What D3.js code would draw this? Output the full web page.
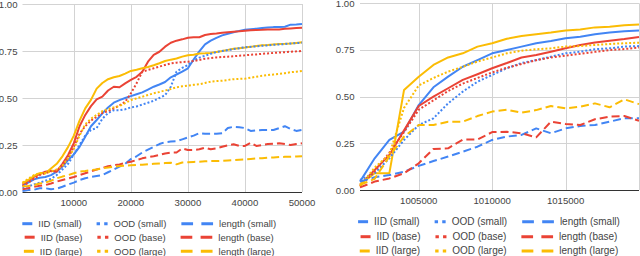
<!DOCTYPE html>
<html>
<head>
<meta charset="utf-8">
<script src="https://cdn.jsdelivr.net/npm/d3@7/dist/d3.min.js"></script>
<style>
  html, body { margin: 0; padding: 0; background: #fff; }
  svg { display: block; font-family: "Liberation Sans", Arial, sans-serif; }
</style>
</head>
<body>
<svg id="chart" width="640" height="256"></svg>
<script>
// x values (training steps) for the two panels
var leftSteps = [1000, 2000, 3000, 4000, 5000, 6000, 7000, 8000, 9000, 10000,
  11000, 12000, 13000, 14000, 15000, 16000, 17000, 18000, 19000, 20000,
  21000, 22000, 23000, 24000, 25000, 26000, 27000, 28000, 29000, 30000,
  31000, 32000, 33000, 34000, 35000, 36000, 37000, 38000, 39000, 40000,
  41000, 42000, 43000, 44000, 45000, 46000, 47000, 48000, 49000, 50000];
var rightSteps = [1001000, 1002000, 1003000, 1004000, 1005000, 1006000, 1007000,
  1008000, 1009000, 1010000, 1011000, 1012000, 1013000, 1014000, 1015000,
  1016000, 1017000, 1018000, 1019000, 1020000];

// left panel
var leftIIDSmall = [0.035,0.05,0.067,0.076,0.08,0.09,0.108,0.135,0.17,0.2,
  0.24,0.294,0.35,0.383,0.418,0.45,0.475,0.489,0.5,0.51,
  0.52,0.53,0.545,0.56,0.572,0.585,0.61,0.625,0.64,0.658,
  0.705,0.748,0.785,0.805,0.82,0.833,0.842,0.85,0.857,0.863,
  0.866,0.869,0.872,0.875,0.877,0.878,0.879,0.89,0.891,0.894];
var leftIIDBase = [0.04,0.06,0.08,0.095,0.108,0.113,0.108,0.15,0.197,0.26,
  0.35,0.41,0.457,0.493,0.507,0.54,0.56,0.557,0.578,0.596,
  0.613,0.64,0.693,0.73,0.746,0.773,0.794,0.805,0.812,0.82,
  0.823,0.823,0.835,0.84,0.843,0.847,0.85,0.853,0.855,0.858,
  0.86,0.862,0.863,0.865,0.865,0.865,0.868,0.87,0.872,0.874];
var leftIIDLarge = [0.046,0.064,0.085,0.1,0.1,0.125,0.15,0.19,0.24,0.3,
  0.38,0.445,0.49,0.55,0.58,0.6,0.61,0.617,0.63,0.644,
  0.65,0.658,0.665,0.674,0.685,0.697,0.704,0.71,0.72,0.727,
  0.73,0.737,0.738,0.74,0.745,0.75,0.756,0.762,0.765,0.768,
  0.772,0.777,0.78,0.782,0.785,0.787,0.788,0.79,0.793,0.796];
var leftOODSmall = [0.02,0.03,0.04,0.05,0.06,0.07,0.09,0.12,0.15,0.2,
  0.25,0.3,0.33,0.34,0.39,0.42,0.435,0.435,0.44,0.45,
  0.455,0.465,0.475,0.485,0.5,0.515,0.56,0.64,0.66,0.675,
  0.7,0.715,0.725,0.735,0.745,0.75,0.755,0.76,0.765,0.77,
  0.772,0.775,0.778,0.78,0.783,0.785,0.787,0.79,0.792,0.794];
var leftOODBase = [0.03,0.05,0.07,0.09,0.1,0.11,0.115,0.14,0.18,0.24,
  0.31,0.35,0.38,0.4,0.42,0.43,0.445,0.46,0.48,0.525,
  0.578,0.64,0.649,0.658,0.667,0.676,0.684,0.688,0.691,0.693,
  0.697,0.702,0.709,0.712,0.716,0.718,0.72,0.722,0.725,0.727,
  0.73,0.732,0.735,0.737,0.74,0.742,0.744,0.746,0.748,0.75];
var leftOODLarge = [0.05,0.07,0.09,0.1,0.1,0.11,0.12,0.14,0.18,0.23,
  0.3,0.36,0.39,0.41,0.43,0.44,0.45,0.457,0.473,0.489,
  0.498,0.507,0.516,0.525,0.532,0.54,0.548,0.557,0.562,0.566,
  0.57,0.573,0.58,0.587,0.59,0.592,0.596,0.6,0.602,0.603,
  0.608,0.613,0.618,0.622,0.625,0.628,0.632,0.637,0.64,0.644];
var leftLenSmall = [0.005,0.01,0.012,0.02,0.02,0.015,0.018,0.028,0.04,0.05,
  0.064,0.073,0.08,0.085,0.09,0.105,0.12,0.135,0.15,0.175,
  0.19,0.21,0.225,0.24,0.255,0.265,0.268,0.27,0.28,0.29,
  0.3,0.313,0.31,0.31,0.31,0.312,0.34,0.347,0.345,0.34,
  0.325,0.328,0.33,0.33,0.33,0.34,0.35,0.335,0.325,0.33];
var leftLenBase = [0.014,0.02,0.027,0.033,0.037,0.045,0.055,0.064,0.072,0.08,
  0.09,0.1,0.11,0.12,0.128,0.137,0.142,0.147,0.155,0.161,
  0.17,0.179,0.185,0.19,0.197,0.205,0.21,0.21,0.232,0.223,
  0.223,0.227,0.236,0.227,0.232,0.241,0.248,0.254,0.245,0.245,
  0.262,0.245,0.25,0.255,0.257,0.259,0.255,0.25,0.255,0.259];
var leftLenLarge = [0.03,0.032,0.037,0.045,0.05,0.06,0.073,0.082,0.09,0.1,
  0.108,0.112,0.117,0.12,0.126,0.13,0.135,0.138,0.14,0.142,
  0.144,0.145,0.148,0.15,0.152,0.154,0.156,0.147,0.157,0.158,
  0.16,0.161,0.163,0.165,0.165,0.166,0.168,0.17,0.172,0.174,
  0.176,0.178,0.18,0.183,0.184,0.186,0.187,0.188,0.189,0.19];

// right panel
var rightIIDSmall = [0.045,0.17,0.268,0.313,0.455,0.55,0.607,0.66,0.696,0.732,
  0.75,0.768,0.786,0.798,0.813,0.821,0.834,0.843,0.85,0.854];
var rightIIDBase = [0.027,0.107,0.188,0.32,0.45,0.5,0.545,0.59,0.62,0.652,
  0.68,0.71,0.723,0.741,0.759,0.777,0.79,0.8,0.809,0.82];
var rightIIDLarge = [0.03,0.09,0.09,0.536,0.607,0.67,0.71,0.732,0.768,0.786,
  0.81,0.825,0.834,0.843,0.854,0.86,0.871,0.875,0.882,0.886];
var rightOODSmall = [0.054,0.09,0.17,0.268,0.348,0.384,0.464,0.527,0.58,0.616,
  0.652,0.68,0.696,0.714,0.732,0.741,0.754,0.759,0.768,0.771];
var rightOODBase = [0.02,0.1,0.2,0.31,0.43,0.48,0.53,0.57,0.6,0.63,
  0.655,0.675,0.695,0.71,0.72,0.73,0.74,0.75,0.755,0.763];
var rightOODLarge = [0.02,0.12,0.19,0.44,0.56,0.6,0.634,0.66,0.688,0.71,
  0.732,0.746,0.754,0.759,0.768,0.771,0.777,0.782,0.786,0.789];
var rightLenSmall = [0.045,0.068,0.08,0.098,0.129,0.155,0.179,0.205,0.232,0.268,
  0.286,0.295,0.33,0.304,0.33,0.343,0.348,0.366,0.384,0.384];
var rightLenBase = [0.014,0.045,0.062,0.09,0.143,0.22,0.223,0.27,0.27,0.31,
  0.312,0.304,0.282,0.366,0.354,0.348,0.379,0.393,0.396,0.371];
var rightLenLarge = [0.027,0.06,0.18,0.286,0.348,0.348,0.366,0.366,0.396,0.42,
  0.43,0.414,0.428,0.45,0.437,0.446,0.464,0.443,0.486,0.46];

var yTicks = [0, 0.25, 0.5, 0.75, 1];
var leftXTicks = [10000, 20000, 30000, 40000, 50000];
var rightXTicks = [1005000, 1010000, 1015000, 1020000];
var rightXLabels = ["1005000", "1010000", "1015000", ""];

// series order = draw order; legend is laid out by model size rows
var seriesNames = ["IID (small)", "IID (base)", "IID (large)",
  "OOD (small)", "OOD (base)", "OOD (large)",
  "length (small)", "length (base)", "length (large)"];
var sizeColors = ["#4285f4", "#ea4335", "#fbbc04"];
var kindStyles = ["solid", "dotted", "dashed"];

var svg = d3.select("#chart");

function drawPanel(opt) {
  var g = svg.append("g");
  var x = d3.scaleLinear().domain(opt.xDomain).range([opt.left, opt.right]);
  var y = d3.scaleLinear().domain([0, 1]).range([opt.bottom, opt.top]);

  // grid
  g.selectAll(".hgrid").data(yTicks.slice(1)).enter().append("line")
    .attr("x1", opt.left).attr("x2", opt.right)
    .attr("y1", d => Math.round(y(d)) + 0.5).attr("y2", d => Math.round(y(d)) + 0.5)
    .attr("stroke", "#d3d3d3").attr("stroke-width", 1);
  g.selectAll(".vgrid").data(opt.xTicks).enter().append("line")
    .attr("x1", d => Math.round(x(d)) + 0.5).attr("x2", d => Math.round(x(d)) + 0.5)
    .attr("y1", opt.top).attr("y2", opt.bottom)
    .attr("stroke", "#d3d3d3").attr("stroke-width", 1);

  // y labels
  g.selectAll(".ylab").data(yTicks).enter().append("text")
    .attr("x", opt.yLabelX).attr("y", d => y(d) + 3.5)
    .attr("text-anchor", "end").attr("font-size", 9.6).attr("fill", "#444")
    .text(d => d3.format(".2f")(d));

  // x labels
  g.selectAll(".xlab").data(opt.xTicks).enter().append("text")
    .attr("x", d => x(d)).attr("y", opt.bottom + 14)
    .attr("text-anchor", "middle").attr("font-size", 9.6).attr("fill", "#444")
    .text((d, i) => opt.xLabels[i]);

  // lines
  var line = d3.line()
    .x((d, i) => x(opt.steps[i]))
    .y(d => y(d));
  opt.series.forEach(function(vals, i) {
    var style = kindStyles[Math.floor(i / 3)];
    g.append("path")
      .attr("d", line(vals))
      .attr("fill", "none")
      .attr("stroke", sizeColors[i % 3])
      .attr("stroke-width", 2)
      .attr("stroke-linejoin", "round")
      .attr("stroke-dasharray", style == "dotted" ? "2,2" : style == "dashed" ? "8,4" : null);
  });

  // baseline
  g.append("line")
    .attr("x1", opt.left).attr("x2", opt.right)
    .attr("y1", opt.bottom + 0.5).attr("y2", opt.bottom + 0.5)
    .attr("stroke", "#333").attr("stroke-width", 1);

  // legend, one centered row per model size
  [0, 1, 2].forEach(function(row) {
    var rg = g.append("g");
    var cx = 0;
    [0, 1, 2].forEach(function(col) {
      var idx = col * 3 + row;
      var style = kindStyles[col];
      var w = style == "solid" ? 10 : style == "dotted" ? 11 : 31.7;
      rg.append("line")
        .attr("x1", cx).attr("x2", cx + w).attr("y1", 0).attr("y2", 0)
        .attr("stroke", sizeColors[row]).attr("stroke-width", 3)
        .attr("stroke-dasharray", style == "dotted" ? "3.4,4.2" : style == "dashed" ? "11.7,8.3" : null);
      cx += w + 6;
      var t = rg.append("text")
        .attr("x", cx).attr("y", 3.4)
        .attr("font-size", opt.legendFont).attr("fill", "#444")
        .text(seriesNames[idx]);
      cx += t.node().getComputedTextLength() + 15;
    });
    cx -= 15;
    rg.attr("transform", "translate(" + (opt.legendCenter - cx / 2) + "," + opt.legendRows[row] + ")");
  });
}

drawPanel({
  left: 22.5, right: 302, top: 4, bottom: 192,
  xDomain: [1000, 50000], steps: leftSteps,
  xTicks: leftXTicks, xLabels: leftXTicks.map(String),
  yLabelX: 17.5,
  series: [leftIIDSmall, leftIIDBase, leftIIDLarge,
    leftOODSmall, leftOODBase, leftOODLarge,
    leftLenSmall, leftLenBase, leftLenLarge],
  legendCenter: 149.2, legendRows: [223.7, 237.2, 251.3], legendFont: 9.5
});

drawPanel({
  left: 360, right: 639, top: 3.3, bottom: 190,
  xDomain: [1001000, 1020000], steps: rightSteps,
  xTicks: rightXTicks, xLabels: rightXLabels,
  yLabelX: 354.5,
  series: [rightIIDSmall, rightIIDBase, rightIIDLarge,
    rightOODSmall, rightOODBase, rightOODLarge,
    rightLenSmall, rightLenBase, rightLenLarge],
  legendCenter: 489, legendRows: [221.7, 236.7, 251], legendFont: 10
});
</script>
</body>
</html>
